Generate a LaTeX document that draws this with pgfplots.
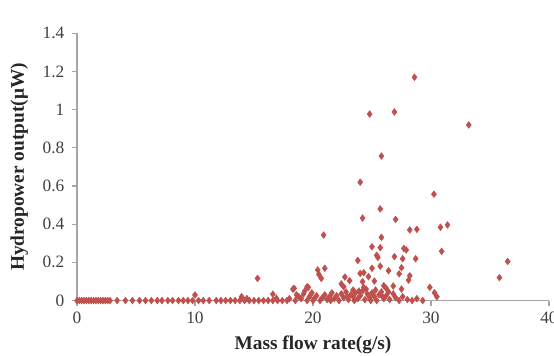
\documentclass[border=0pt]{standalone}
\usepackage{pgfplots}
\pgfplotsset{compat=1.18}
\usepackage{fontspec}
\setmainfont{Liberation Serif}
\definecolor{mk}{HTML}{C0504D}
\definecolor{axg}{HTML}{A6A6A6}
\definecolor{txt}{HTML}{404040}
\begin{document}
\begin{tikzpicture}
\begin{axis}[
  at={(0,0)}, anchor=south west,
  width=354pt, height=200.4pt, scale only axis,
  xmin=0, xmax=40, ymin=0, ymax=1.4,
  xtick={0,10,20,30,40}, ytick={0,0.2,0.4,0.6,0.8,1,1.2,1.4},
  axis x line*=bottom, axis y line*=left,
  axis line style={draw=axg, line width=0.8pt, -},
  tick style={draw=axg, line width=0.8pt},
  tick align=outside, major tick length=4pt,
  xticklabel style={font=\fontsize{13}{15}\selectfont, text=txt, yshift=-1pt},
  yticklabel style={font=\fontsize{13}{15}\selectfont, text=txt, xshift=-2pt},
  /pgf/number format/assume math mode=true,
  /pgf/number format/fixed,
  xlabel={\textbf{Mass flow rate(g/s)}},
  ylabel={\textbf{Hydropower output(μW)}},
  label style={font=\fontsize{14.5}{16}\selectfont, text=black!85},
  xlabel style={yshift=-2.5pt},
  ylabel style={yshift=4pt},
  clip=false,
]
\addplot[only marks, mark=diamond*, mark size=2.5pt, color=mk] coordinates {
(28.6,1.17) (24.8,0.977) (26.9,0.988) (33.2,0.92) (25.8,0.757) (24.0,0.62)
(30.25,0.557) (25.7,0.48) (24.2,0.432) (27.0,0.425) (20.9,0.343) (28.2,0.37)
(28.8,0.373) (30.8,0.384) (31.4,0.396) (25.8,0.331) (25.0,0.282) (25.7,0.277)
(27.7,0.273) (27.9,0.265) (30.9,0.258) (25.4,0.237) (25.5,0.226) (26.9,0.23)
(27.6,0.219) (28.7,0.219) (23.8,0.21) (36.5,0.205) (25.7,0.18) (25.0,0.169)
(27.5,0.172) (26.4,0.156) (27.3,0.14) (24.0,0.142) (24.3,0.146) (21.0,0.169)
(20.4,0.16) (20.5,0.137) (20.7,0.116) (35.8,0.12) (22.7,0.123) (23.1,0.104)
(24.7,0.125) (25.2,0.102) (24.2,0.099) (28.2,0.13) (28.1,0.107) (26.0,0.078)
(26.2,0.064) (26.8,0.076) (27.5,0.06) (29.9,0.069) (30.3,0.041) (30.5,0.02)
(29.3,0.0) (22.4,0.087) (22.6,0.072) (23.4,0.055) (24.3,0.069) (19.6,0.069)
(19.3,0.05) (15.3,0.116) (10.0,0.029) (13.95,0.02) (16.6,0.033) (18.3,0.059)
(18.6,0.03) (18.4,0.064) (19.5,0.072)
(18.0,0.01) (18.5,0.0) (18.8,0.02) (19.0,0.01) (19.2,0.035) (19.5,0.0)
(19.7,0.02) (19.9,0.04) (20.1,0.01) (20.3,0.025) (20.6,0.0) (20.8,0.015)
(21.0,0.03) (21.2,0.005) (21.4,0.02) (21.6,0.04) (21.8,0.01) (22.0,0.025)
(22.2,0.0) (22.4,0.035) (22.6,0.015) (22.8,0.045) (23.0,0.005) (23.2,0.03)
(23.4,0.02) (23.6,0.04) (23.8,0.01) (24.0,0.025) (24.2,0.05) (24.4,0.005)
(24.6,0.035) (24.8,0.015) (25.0,0.04) (25.2,0.02) (25.4,0.0) (25.6,0.03)
(25.8,0.045) (26.0,0.01) (26.2,0.025) (26.5,0.005) (26.8,0.035) (27.0,0.015)
(27.3,0.0) (27.6,0.02) (28.0,0.005) (28.4,0.0) (28.8,0.01) (23.5,0.0)
(24.9,0.0) (22.9,0.02) (21.5,0.0) (20.0,0.0) (25.9,0.02) (24.5,0.06)
(23.9,0.05) (25.3,0.055) (26.4,0.045)
(0.0,0) (0.2,0) (0.4,0) (0.6,0) (0.8,0) (1.0,0) (1.2,0) (1.4,0) (1.6,0)
(1.8,0) (2.0,0) (2.2,0) (2.4,0) (2.6,0) (2.8,0) (3.4,0) (4.1,0) (4.7,0)
(5.3,0) (5.8,0) (6.3,0) (6.8,0) (7.2,0) (7.7,0) (8.1,0) (8.6,0) (9.0,0)
(9.4,0) (9.8,0) (10.3,0) (10.7,0) (11.2,0) (11.8,0) (12.2,0) (12.6,0)
(13.0,0) (13.4,0) (13.8,0) (14.2,0) (14.6,0) (15.0,0) (15.4,0) (15.8,0)
(16.2,0) (16.6,0) (17.0,0) (17.4,0) (17.8,0) (14.4,0.01) (16.9,0.012)
};
\end{axis}
\pgfresetboundingbox
\path[use as bounding box] (-57.75pt,-41.6pt) rectangle (357.75pt,225.4pt);
\end{tikzpicture}
\end{document}
